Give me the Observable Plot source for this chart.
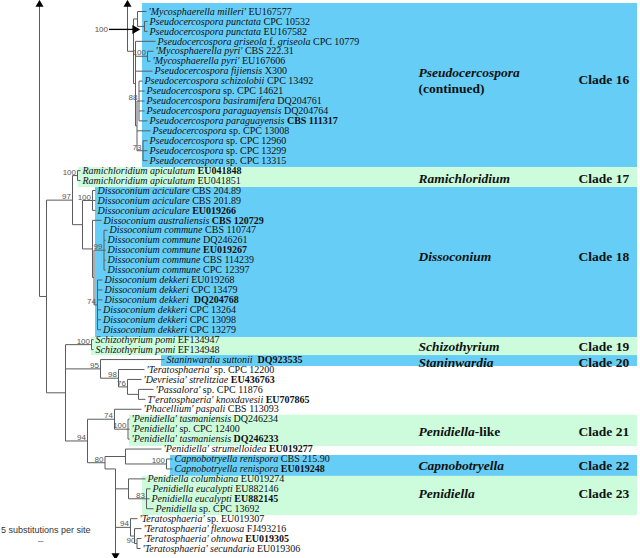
<!DOCTYPE html>
<html><head><meta charset="utf-8">
<script src="https://cdn.jsdelivr.net/npm/d3@7"></script>
<script src="https://cdn.jsdelivr.net/npm/@observablehq/plot@0.6"></script>
<style>body{margin:0;background:#fff}</style>
</head><body><div id="chart"></div>
<script>
// ---------- tips (top to bottom) ----------
const tipTaxon = [
"'Mycosphaerella milleri'","Pseudocercospora punctata","Pseudocercospora punctata","Pseudocercospora griseola f. griseola",
"'Mycosphaerella pyri'","'Mycosphaerella pyri'","Pseudocercospora fijiensis","Pseudocercospora schizolobii",
"Pseudocercospora sp.","Pseudocercospora basiramifera","Pseudocercospora paraguayensis","Pseudocercospora paraguayensis",
"Pseudocercospora sp.","Pseudocercospora sp.","Pseudocercospora sp.","Pseudocercospora sp.",
"Ramichloridium apiculatum","Ramichloridium apiculatum",
"Dissoconium aciculare","Dissoconium aciculare","Dissoconium aciculare","Dissoconium australiensis",
"Dissoconium commune","Dissoconium commune","Dissoconium commune","Dissoconium commune","Dissoconium commune",
"Dissoconium dekkeri","Dissoconium dekkeri","Dissoconium dekkeri","Dissoconium dekkeri","Dissoconium dekkeri","Dissoconium dekkeri",
"Schizothyrium pomi","Schizothyrium pomi","Staninwardia suttonii",
"'Teratosphaeria' sp.","'Devriesia' strelitziae","'Passalora' sp.","T'eratosphaeria' knoxdavesii",
"'Phacellium' paspali","'Penidiella' tasmaniensis","'Penidiella' sp.","'Penidiella' tasmaniensis",
"'Penidiella' strumelloidea","Capnobotryella renispora","Capnobotryella renispora",
"Penidiella columbiana","Penidiella eucalypti","Penidiella eucalypti","Penidiella sp.",
"'Teratosphaeria' sp.","'Teratosphaeria' flexuosa","'Teratosphaeria' ohnowa","'Teratosphaeria' secundaria"];
const tipAccession = [
"EU167577","CPC 10532","EU167582","CPC 10779","CBS 222.31","EU167606","X300","CPC 13492",
"CPC 14621","DQ204761","DQ204764","CBS 111317","CPC 13008","CPC 12960","CPC 13299","CPC 13315",
"EU041848","EU041851","CBS 204.89","CBS 201.89","EU019266","CBS 120729",
"CBS 110747","DQ246261","EU019267","CBS 114239","CPC 12397",
"EU019268","CPC 13479","\u00a0DQ204768","CPC 13264","CPC 13098","CPC 13279",
"EF134947","EF134948","\u00a0DQ923535","CPC 12200","EU436763","CPC 11876","EU707865",
"CBS 113093","DQ246234","CPC 12400","DQ246233","EU019277","CBS 215.90","EU019248",
"EU019274","EU882146","EU882145","CPC 13692","EU019307","FJ493216","EU019305","EU019306"];
const tipBold = [0,0,0,0,0,0,0,0, 0,0,0,1,0,0,0,0, 1,0, 0,0,1,1, 0,0,1,0,0, 0,0,1,0,0,0,
  0,0,1,0,1,0,1, 0,0,0,1,1,0,1, 0,0,1,0,0,0,1,0];
const tipParent = ["P1","Pp","Pp","P2","Ppyri","Ppyri","P2","P88","P88","P88","P88","P88","Plow","P73","P73","P73",
  "Rami","Rami","E","E","E","F","H","H","H","H","H","I","I","I","I","I","I",
  "Schizo","Schizo","K","M","N","O","O","P74","Ptasm","Ptasm","Ptasm","Q","Capno","Capno",
  "Penid","Peuc","Peuc","Peuc","T94","X","T90","T90"];
// cumulative branch length of each tip (x10 substitutions units)
const tipDepth = [14.6,14.7,14.7,15.5,15.3,15.0,15.2,14.2,14.4,14.4,14.4,14.7,15.0,14.7,14.7,14.7,
  8.0,8.0,9.5,9.5,9.5,10.1,10.7,10.5,10.5,10.5,10.5,10.2,10.2,10.2,10.05,10.05,10.05,
  9.3,9.3,16.4,14.4,14.1,15.3,14.5,14.1,12.9,12.9,12.9,16.1,17.2,17.2,14.5,15.0,14.9,15.3,13.7,14.1,14.1,14.0];

// ---------- internal nodes ----------
const nodeId      = ["A","B","Rami","D","E","F","G","H","I","C","Schizo","K","M","N","O","N94","P74","Ptasm","L80","Q","Capno","R","Penid","Peuc","T94","X","T90","PS","P1","Pp","P2","Ppyri","Plow","P88","P73"];
const nodeParent  = [null,"A","B","B","D","D","F","G","G","A","C","C","K","M","N","C","N94","P74","N94","L80","Q","L80","R","Penid","R","T94","X",null,"PS","P1","PS","P2","P2","Plow","Plow"];
const nodeDepth   = [4.6,7.2,7.7,8.2,9.2,9.2,9.35,10.35,9.7,6.5,9.1,10.0,11.8,12.7,13.8,8.7,11.4,12.75,10.45,12.5,16.6,11.5,12.8,14.6,13.0,13.4,13.65,13.3,13.7,14.4,13.5,14.7,13.65,13.85,14.25];
const nodeSupport = ["","97","100","","100","","","99","74","","100","95","98","76","","94","74","100","80","","100","","","83","94","","90","","","","","100","","88","73"];
// branches continued from the previous page (up) / to the next page (down)
const stemNode = ["A","PS"], stemDepth = [3.9, 12.7];
const contNode = ["R"], contRow = [46.0];   // row where R joins its parent; its lower children run off the page
// annotated support value with arrow
const noteText = ["100"], noteX1 = [10.85], noteX2 = [13.45], noteRow = [1.8];

// ---------- shaded clades ----------
const bandGenus  = ["Pseudocercospora","Ramichloridium","Dissoconium","Schizothyrium","Staninwardia","Penidiella","Capnobotryella","Penidiella"];
const bandSuffix = ["","","","","","-like","",""];
const bandClade  = ["Clade 16","Clade 17","Clade 18","Clade 19","Clade 20","Clade 21","Clade 22","Clade 23"];
const bandFill   = ["#66cdf6","#ccfcdb","#66cdf6","#ccfcdb","#66cdf6","#ccfcdb","#66cdf6","#ccfcdb"];
const bandX1     = [14.2,7.8,9.5,9.1,16.1,12.9,17.0,14.2];
const bandRow1   = [-0.8,15.7,17.7,32.8,34.6,40.6,44.65,46.75];
const bandRow2   = [15.7,17.7,32.8,34.6,35.7,43.75,46.75,50.7];
const genusRow   = [6.13,16.8,24.64,33.69,35.3,42.24,45.65,48.47];
const cladeRow   = [6.84,16.8,24.64,33.69,35.3,42.24,45.65,48.47];

// ---------- layout ----------
const depth = new Map(nodeId.map((id, i) => [id, nodeDepth[i]]));
const kids = new Map(nodeId.map(id => [id, []]));
nodeId.forEach((id, i) => { if (nodeParent[i]) kids.get(nodeParent[i]).push({node: id}); });
tipParent.forEach((p, i) => kids.get(p).push({tip: i}));
const yMemo = new Map(contNode.map((id, i) => [id, contRow[i]]));
const yOf = c => c.tip !== undefined ? c.tip : nodeY(c.node);
function nodeY(id) {
  if (yMemo.has(id)) return yMemo.get(id);
  const ys = kids.get(id).map(yOf);
  const y = (Math.min(...ys) + Math.max(...ys)) / 2;
  yMemo.set(id, y); return y;
}
const span = id => { const ys = kids.get(id).map(yOf); return [Math.min(...ys), Math.max(...ys)]; };
const topRow = -0.7, bottomRow = 54.7;
const segs = [];
tipParent.forEach((p, i) => segs.push({x1: depth.get(p), y1: i, x2: tipDepth[i], y2: i}));
nodeId.forEach((id, i) => {
  let [a, b] = span(id);
  if (contNode.includes(id)) { a = Math.min(a, nodeY(id)); b = bottomRow; }
  segs.push({x1: nodeDepth[i], y1: a, x2: nodeDepth[i], y2: b});
  if (nodeParent[i]) segs.push({x1: depth.get(nodeParent[i]), y1: nodeY(id), x2: nodeDepth[i], y2: nodeY(id)});
});
stemNode.forEach((id, i) => {
  segs.push({x1: stemDepth[i], y1: nodeY(id), x2: depth.get(id), y2: nodeY(id)});
  segs.push({x1: stemDepth[i], y1: nodeY(id), x2: stemDepth[i], y2: topRow});
});

const arrowHeads = [
  ...stemDepth.map(x => ({x, y: topRow, rot: 0})),
  ...contNode.map(id => ({x: depth.get(id), y: bottomRow, rot: 180})),
  ...noteX2.map((x, i) => ({x, y: noteRow[i], rot: 90, big: true}))
];
const supports = nodeId.map((id, i) => ({x: nodeDepth[i], y: nodeY(id), t: nodeSupport[i]})).filter(d => d.t);
const tipStrings = tipTaxon.map((t, i) => t + " " + tipAccession[i]);
const tips = tipStrings.map((t, i) => ({x: tipDepth[i], y: i, t}));
const bands = bandGenus.map((g, i) => ({x1: bandX1[i], x2: 63.7, y1: bandRow1[i], y2: bandRow2[i], fill: bandFill[i]}));

const serif = "'Liberation Serif','Times New Roman',serif";
const sans = "'Liberation Sans',Arial,sans-serif";

const svg = Plot.plot({
  width: 640, height: 558, margin: 0,
  x: {domain: [0, 64], range: [0, 640], axis: null},
  y: {domain: [0, 54], range: [11, 548], axis: null},
  style: {background: "#fff"},
  marks: [
    Plot.rect(bands, {x1: "x1", x2: "x2", y1: "y1", y2: "y2", fill: "fill"}),
    Plot.link(segs, {x1: "x1", y1: "y1", x2: "x2", y2: "y2", stroke: "#5c5c5c", strokeWidth: 1}),
    Plot.link(noteX1.map((x, i) => ({x1: x, x2: noteX2[i], y: noteRow[i]})), {x1: "x1", x2: "x2", y1: "y", y2: "y", stroke: "#000", strokeWidth: 1.3}),
    Plot.dot(arrowHeads, {x: "x", y: "y", symbol: "triangle", rotate: "rot", r: d => d.big ? 4 : 3.2, fill: "#000", stroke: null}),
    Plot.text(noteText.map((t, i) => ({x: noteX1[i], y: noteRow[i], t})), {x: "x", y: "y", text: "t", textAnchor: "end", dx: -1, fontSize: 8, fontFamily: sans, fill: "#555"}),
    Plot.text(supports, {x: "x", y: "y", text: "t", textAnchor: "end", dx: -1.5, dy: -3.5, fontSize: 8, fontFamily: sans, fill: "#555"}),
    Plot.text(tips, {x: "x", y: "y", text: "t", textAnchor: "start", dx: 2, fontSize: 10, fontFamily: serif, fill: "#111"}),
    Plot.text(bandGenus.map((g, i) => ({y: genusRow[i], t: g + bandSuffix[i]})), {x: 41.8, y: "y", text: "t", textAnchor: "start", fontSize: 13.5, fontWeight: "bold", fontFamily: serif, fill: "#111"}),
    Plot.text(["(continued)"], {x: 41.8, y: 7.74, text: d => d, textAnchor: "start", fontSize: 13.5, fontWeight: "bold", fontFamily: serif, fill: "#111"}),
    Plot.text(bandClade.map((c, i) => ({y: cladeRow[i], t: c})), {x: 57.8, y: "y", text: "t", textAnchor: "start", fontSize: 13.5, fontWeight: "bold", fontFamily: serif, fill: "#111"}),
    Plot.text(["5 substitutions per site"], {x: 0, y: 52.2, text: d => d, textAnchor: "start", dx: 0.5, fontSize: 9, fontFamily: sans, fill: "#333"}),
    Plot.link([{x1: 3.75, x2: 4.3, y: 53.3}], {x1: "x1", x2: "x2", y1: "y", y2: "y", stroke: "#999", strokeWidth: 1})
  ]
});

// rich text: italic taxon names (except rank words), bold type accessions
const upright = new Set(["sp.", "f."]);
const tipIndex = new Map(tipStrings.map((s, i) => [s, i]));
const genusIndex = new Map(bandGenus.map((g, i) => [g + bandSuffix[i], i]));
d3.select(svg).selectAll("text").each(function() {
  const s = this.textContent;
  const t = d3.select(this);
  if (tipIndex.has(s)) {
    const i = tipIndex.get(s);
    t.text(null);
    tipTaxon[i].split(" ").forEach((w, j) => {
      t.append("tspan").attr("font-style", upright.has(w) ? "normal" : "italic").text((j ? " " : "") + w);
    });
    t.append("tspan").attr("font-weight", tipBold[i] ? "bold" : "normal").text(" " + tipAccession[i]);
  } else if (genusIndex.has(s)) {
    const i = genusIndex.get(s);
    t.text(null);
    t.append("tspan").attr("font-style", "italic").text(bandGenus[i]);
    if (bandSuffix[i]) t.append("tspan").text(bandSuffix[i]);
  }
});
document.getElementById("chart").append(svg);
</script>
</body></html>
